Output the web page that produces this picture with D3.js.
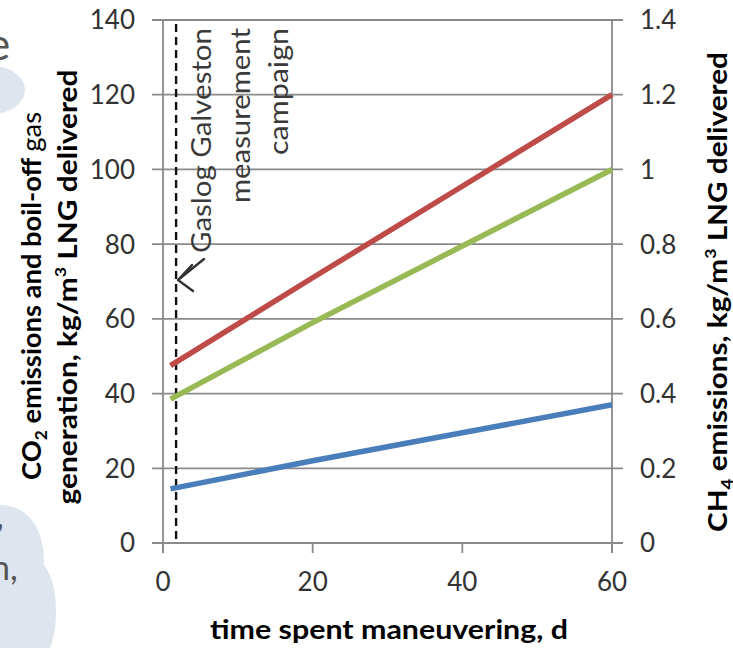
<!DOCTYPE html>
<html lang="en">
<meta charset="UTF-8">
<title>Emissions vs time spent maneuvering</title>
<script src="https://d3js.org/d3.v7.min.js"></script>
<style>
body { margin: 0; background: #fff; overflow: hidden; }
text { font-family: Lato, "Open Sans", sans-serif; }
.tick-label { font-size: 26px; fill: #333; }
.axis-title { font-size: 27px; font-weight: bold; fill: #000; }
.note { font-size: 26px; fill: #3a3a3a; }
</style>
<body>
<svg width="733" height="648"></svg>
<script>
// time spent maneuvering, days
const days = [1, 20, 40, 60];
// series (left axis units, kg/m3 LNG delivered)
const redSeries = [47.5, 71, 95.5, 120];
const greenSeries = [38.5, 59, 79.5, 100];
const blueSeries = [14.5, 22, 29.5, 37];
const campaignDay = 1.75;

const xTicks = [0, 20, 40, 60];
const leftTicks = [0, 20, 40, 60, 80, 100, 120, 140];
const rightTicks = [0, 0.2, 0.4, 0.6, 0.8, 1, 1.2, 1.4];

const svg = d3.select('svg');

// leftover slide decoration on the left edge
const deco = svg.append('g');
deco.append('ellipse').attr('cx', -8).attr('cy', 90).attr('rx', 33).attr('ry', 24).attr('fill', '#dfe5ef');
deco.append('path')
  .attr('d', 'M0,505 C25,505 45,525 44,565 C60,585 58,630 50,648 L0,648 Z')
  .attr('fill', '#dfe5ef');
deco.append('text').attr('x', -13).attr('y', 60).attr('font-size', 44).attr('fill', '#555').text('e');
deco.append('text').attr('x', -4).attr('y', 528).attr('font-size', 34).attr('fill', '#555').text(',');
deco.append('text').attr('x', -9).attr('y', 580).attr('font-size', 34).attr('fill', '#555').text('n,');

const x = d3.scaleLinear().domain([0, 60]).range([163, 612]);
const yL = d3.scaleLinear().domain([0, 140]).range([543, 20]);
const yR = d3.scaleLinear().domain([0, 1.4]).range([543, 20]);

// gridlines incl. outer tick marks on both sides
svg.append('g').selectAll('line').data(leftTicks).join('line')
  .attr('x1', 152).attr('x2', 623)
  .attr('y1', d => yL(d)).attr('y2', d => yL(d))
  .attr('stroke', '#8a8a8a').attr('stroke-width', 1.8);

// vertical axis lines
[0, 60].forEach(v => {
  svg.append('line')
    .attr('x1', x(v)).attr('x2', x(v)).attr('y1', yL(140)).attr('y2', yL(0) + 10)
    .attr('stroke', '#8a8a8a').attr('stroke-width', 1.8);
});
// x ticks
svg.append('g').selectAll('line').data(xTicks).join('line')
  .attr('x1', d => x(d)).attr('x2', d => x(d))
  .attr('y1', yL(0)).attr('y2', yL(0) + 10)
  .attr('stroke', '#8a8a8a').attr('stroke-width', 1.8);

// tick labels
svg.append('g').selectAll('text').data(leftTicks).join('text')
  .attr('class', 'tick-label')
  .attr('x', 135).attr('y', d => yL(d)).attr('dy', '0.36em')
  .attr('text-anchor', 'end').text(d => d);
svg.append('g').selectAll('text').data(rightTicks).join('text')
  .attr('class', 'tick-label')
  .attr('x', 640).attr('y', d => yR(d)).attr('dy', '0.36em')
  .text(d => d3.format('~g')(d));
svg.append('g').selectAll('text').data(xTicks).join('text')
  .attr('class', 'tick-label')
  .attr('x', d => x(d)).attr('y', 591)
  .attr('text-anchor', 'middle').text(d => d);

// campaign marker
svg.append('line')
  .attr('x1', x(campaignDay)).attr('x2', x(campaignDay))
  .attr('y1', yL(140) + 4).attr('y2', yL(0))
  .attr('stroke', '#111').attr('stroke-width', 2.4)
  .attr('stroke-dasharray', '8,5');

// series
const line = d3.line().x((d, i) => x(days[i])).y(d => yL(d));
[[redSeries, '#be4b48'], [greenSeries, '#98b954'], [blueSeries, '#4a7ebb']].forEach(([s, c]) => {
  svg.append('path').attr('d', line(s))
    .attr('fill', 'none').attr('stroke', c).attr('stroke-width', 5.5)
    .attr('stroke-linecap', 'butt');
});

// annotation
const noteLines = [['Gaslog Galveston', 211, 225], ['measurement', 250, 175], ['campaign', 288, 127]];
noteLines.forEach(([t, bx, len]) => {
  svg.append('text').attr('class', 'note')
    .attr('transform', `translate(${bx},28) rotate(-90)`)
    .attr('text-anchor', 'end')
    .attr('textLength', len).attr('lengthAdjust', 'spacingAndGlyphs')
    .text(t);
});
// arrow
svg.append('path')
  .attr('d', 'M204,259 L178,280 M178,280 L192,265 M178,280 L193,291')
  .attr('fill', 'none').attr('stroke', '#333').attr('stroke-width', 2.4)
  .attr('stroke-linecap', 'round');

// axis titles
const t1 = svg.append('text').attr('class', 'axis-title')
  .attr('transform', 'translate(41,296) rotate(-90)')
  .attr('text-anchor', 'middle')
  .attr('textLength', 368).attr('lengthAdjust', 'spacingAndGlyphs');
t1.append('tspan').text('CO');
t1.append('tspan').attr('font-size', 17).attr('dy', 6).text('2');
t1.append('tspan').attr('dy', -6).text(' emissions and boil-off ');
t1.append('tspan').attr('font-weight', 'normal').text('gas');

const t2 = svg.append('text').attr('class', 'axis-title')
  .attr('transform', 'translate(77,287) rotate(-90)')
  .attr('text-anchor', 'middle')
  .attr('textLength', 435).attr('lengthAdjust', 'spacingAndGlyphs');
t2.append('tspan').text('generation, kg/m');
t2.append('tspan').attr('font-size', 16).attr('dy', -11).text('3');
t2.append('tspan').attr('dy', 11).text(' LNG delivered');

const t3 = svg.append('text').attr('class', 'axis-title')
  .attr('transform', 'translate(727,292) rotate(-90)')
  .attr('text-anchor', 'middle')
  .attr('textLength', 480).attr('lengthAdjust', 'spacingAndGlyphs');
t3.append('tspan').text('CH');
t3.append('tspan').attr('font-size', 17).attr('dy', 6).text('4');
t3.append('tspan').attr('dy', -6).text(' emissions,  kg/m');
t3.append('tspan').attr('font-size', 16).attr('dy', -11).text('3');
t3.append('tspan').attr('dy', 11).text(' LNG delivered');

svg.append('text').attr('class', 'axis-title')
  .attr('x', 389).attr('y', 639).attr('text-anchor', 'middle')
  .attr('textLength', 358).attr('lengthAdjust', 'spacingAndGlyphs')
  .text('time spent maneuvering,  d');
</script>
</body>
</html>
